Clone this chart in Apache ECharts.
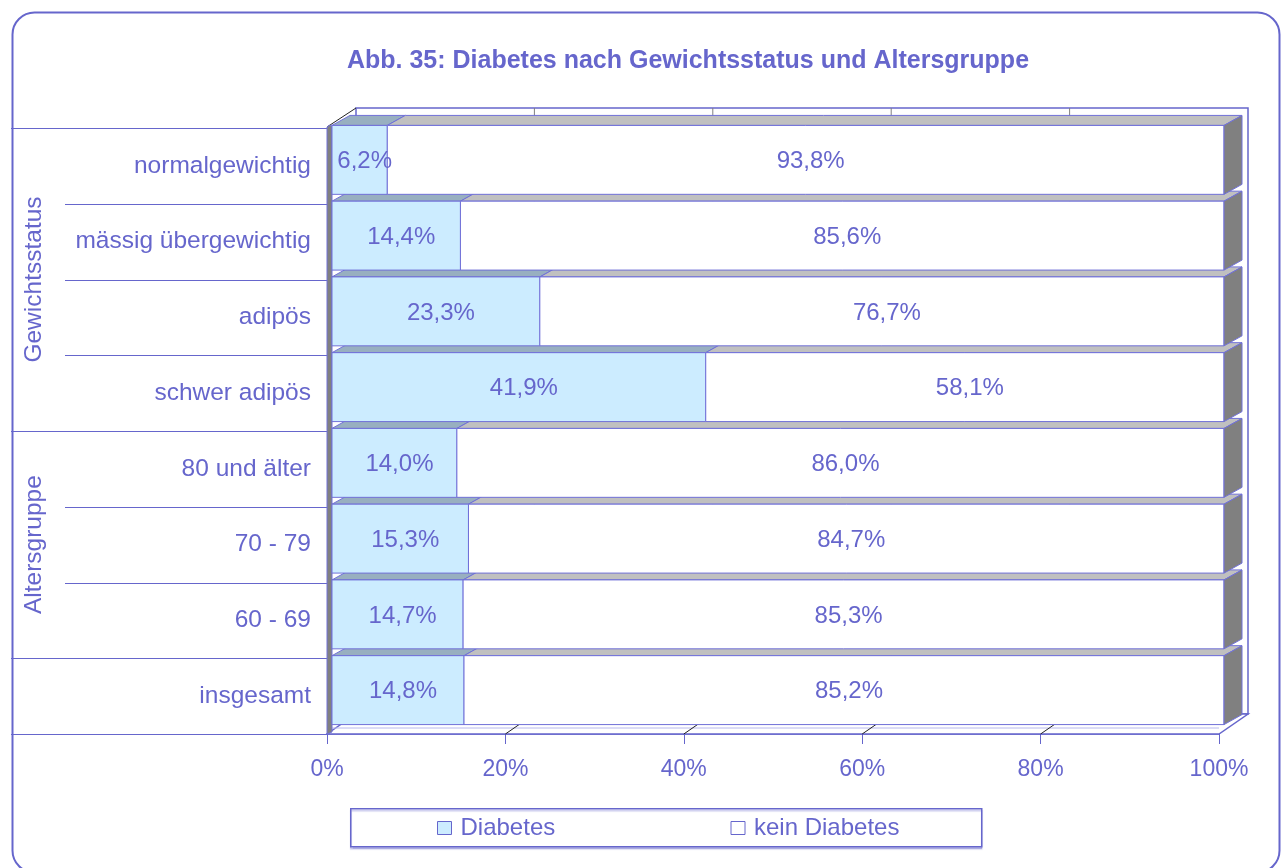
<!DOCTYPE html>
<html>
<head>
<meta charset="utf-8">
<title>Diabetes nach Gewichtsstatus und Altersgruppe</title>
<script src="https://cdn.jsdelivr.net/npm/echarts@6/dist/echarts.min.js"></script>
<style>
  html, body { margin: 0; padding: 0; background: #ffffff; }
  #chart { width: 1283px; height: 868px; }
</style>
</head>
<body>
<div id="chart"></div>
<script>
// ---- data ----
const titleText = 'Abb. 35: Diabetes nach Gewichtsstatus und Altersgruppe';
const categories = ['normalgewichtig', 'mässig übergewichtig', 'adipös', 'schwer adipös',
                    '80 und älter', '70 - 79', '60 - 69', 'insgesamt'];
const diabetes = [6.2, 14.4, 23.3, 41.9, 14.0, 15.3, 14.7, 14.8];
const keinDiabetes = [93.8, 85.6, 76.7, 58.1, 86.0, 84.7, 85.3, 85.2];
const seriesNames = ['Diabetes', 'kein Diabetes'];
const xTicks = [0, 20, 40, 60, 80, 100];
const groupNames = ['Gewichtsstatus', 'Altersgruppe', ''];
const groupFirst = [0, 4, 7];
const groupLast = [3, 6, 7];

// ---- style ----
const FONT = '"Liberation Sans", Arial, Helvetica, sans-serif';
const INK = '#6666CC';
const EDGE = '#7070D8';
const DIA_FRONT = '#CCECFF';
const DIA_TOP = '#98AFC0';
const KEIN_FRONT = '#FFFFFF';
const KEIN_TOP = '#C0C0C0';
const SIDE = '#808080';

// oblique projection: wall depth and bar depth in pixels
const WALL_DX = 29, WALL_DY = -20;
const BAR_DX = 18, BAR_DY = -10;
const BAR_SHIFT_X = 5, BAR_SHIFT_Y = -6;
const BAR_FRAC = 0.91;
const WALL_THICK = 5;

const fmt = v => v.toFixed(1).replace('.', ',') + '%';

// walls, floor, gridlines, category separators and group titles
function renderFrame(params, api) {
  const cs = params.coordSys;
  const L = cs.x, T = cs.y, R = cs.x + cs.width, B = cs.y + cs.height;
  const band = api.size([0, 1])[1];
  const kids = [];

  // back wall
  kids.push({ type: 'rect', z2: 1,
    shape: { x: L + WALL_DX, y: T + WALL_DY, width: cs.width, height: cs.height },
    style: { fill: '#ffffff', stroke: INK, lineWidth: 1.5 } });
  // gridlines on the back wall
  xTicks.forEach(v => {
    const x = api.coord([v, 0])[0] + WALL_DX;
    if (v > 0 && v < 100) {
      kids.push({ type: 'line', z2: 2,
        shape: { x1: x, y1: T + WALL_DY, x2: x, y2: B + WALL_DY },
        style: { stroke: '#808080', lineWidth: 1 } });
    }
  });
  // floor slab
  kids.push({ type: 'polygon', z2: 3,
    shape: { points: [[L, B], [R, B], [R + WALL_DX, B + WALL_DY], [L + WALL_DX, B + WALL_DY]] },
    style: { fill: '#ffffff', stroke: INK, lineWidth: 1.5 } });
  kids.push({ type: 'line', z2: 4,
    shape: { x1: L, y1: B - 6, x2: R, y2: B - 6 },
    style: { stroke: '#B8B8EE', lineWidth: 1 } });
  xTicks.forEach(v => {
    const x = api.coord([v, 0])[0];
    if (v > 0 && v < 100) {
      kids.push({ type: 'line', z2: 4,
        shape: { x1: x, y1: B, x2: x + WALL_DX, y2: B + WALL_DY },
        style: { stroke: '#222222', lineWidth: 1 } });
    }
  });
  // left wall: top edge and thick front edge
  kids.push({ type: 'line', z2: 5,
    shape: { x1: L, y1: T - 1, x2: L + WALL_DX, y2: T + WALL_DY },
    style: { stroke: '#222222', lineWidth: 1 } });
  kids.push({ type: 'polygon', z2: 5,
    shape: { points: [[L, T - 1], [L + 3, T - 3], [L + WALL_THICK, T - 2], [L + WALL_THICK, B - 2], [L, B]] },
    style: { fill: SIDE, stroke: EDGE, lineWidth: 1 } });

  // category separators in the label column
  const groupStart = new Set(groupFirst);
  for (let k = 0; k <= categories.length; k++) {
    const y = Math.round(T + k * band) + 0.5;
    const full = groupStart.has(k) || k === categories.length;
    kids.push({ type: 'line', z2: 1,
      shape: { x1: full ? 11 : 65, y1: y, x2: L, y2: y },
      style: { stroke: INK, lineWidth: 1 } });
  }
  // rotated group titles
  groupNames.forEach((name, g) => {
    if (!name) return;
    const yMid = T + (groupFirst[g] + groupLast[g] + 1) / 2 * band;
    kids.push({ type: 'text', z2: 6, x: 34, y: yMid, rotation: Math.PI / 2,
      style: { text: name, fill: INK, font: '24.5px ' + FONT, align: 'center', verticalAlign: 'middle' } });
  });
  return { type: 'group', children: kids };
}

// one 3D bar segment per data item: [category, start, end, value]
function barRenderer(front, top, drawSide) {
  return function (params, api) {
    const cat = api.value(0), start = api.value(1), end = api.value(2), val = api.value(3);
    const a = api.coord([start, cat]);
    const b = api.coord([end, cat]);
    const band = api.size([0, 1])[1];
    const h = band * BAR_FRAC;
    const yc = a[1] + BAR_SHIFT_Y;
    const x0 = a[0] + BAR_SHIFT_X, x1 = b[0] + BAR_SHIFT_X;
    const y0 = yc - h / 2, y1 = yc + h / 2;
    const z = (categories.length - cat) * 10;
    const kids = [
      { type: 'polygon', z2: z,
        shape: { points: [[x0, y0], [x1, y0], [x1 + BAR_DX, y0 + BAR_DY], [x0 + BAR_DX, y0 + BAR_DY]] },
        style: { fill: top, stroke: EDGE, lineWidth: 1 } },
      { type: 'rect', z2: z + 1,
        shape: { x: x0, y: y0, width: x1 - x0, height: h },
        style: { fill: front, stroke: EDGE, lineWidth: 1 } }
    ];
    if (drawSide) {
      kids.push({ type: 'polygon', z2: z + 1,
        shape: { points: [[x1, y0], [x1 + BAR_DX, y0 + BAR_DY], [x1 + BAR_DX, y1 + BAR_DY], [x1, y1]] },
        style: { fill: SIDE, stroke: EDGE, lineWidth: 1 } });
    }
    kids.push({ type: 'text', z2: z + 5, x: (x0 + x1) / 2 + 5, y: yc + 1.5,
      style: { text: fmt(val), fill: INK, font: '24px ' + FONT, align: 'center', verticalAlign: 'middle' } });
    return { type: 'group', children: kids };
  };
}

const diaData = categories.map((c, i) => [i, 0, diabetes[i], diabetes[i]]);
const keinData = categories.map((c, i) => [i, diabetes[i], diabetes[i] + keinDiabetes[i], keinDiabetes[i]]);

const chart = echarts.init(document.getElementById('chart'), null, { renderer: 'canvas' });
chart.setOption({
  backgroundColor: '#ffffff',
  animation: false,
  textStyle: { fontFamily: FONT },
  title: {
    text: titleText, left: 688, top: 49, textAlign: 'center', padding: 0,
    textStyle: { fontSize: 25, fontWeight: 'bold', color: INK, fontFamily: FONT }
  },
  legend: {
    data: seriesNames, left: 437, top: 816, icon: 'rect', padding: 0,
    itemWidth: 14, itemHeight: 13, itemGap: 0,
    itemStyle: { borderColor: INK, borderWidth: 1 },
    textStyle: { fontSize: 24, color: INK, fontFamily: FONT, width: 270, lineHeight: 24, padding: [0, 0, 0, 4] }
  },
  grid: { left: 327, top: 128, width: 892, height: 606 },
  xAxis: {
    type: 'value', min: 0, max: 100, interval: 20,
    axisLine: { show: true, lineStyle: { color: INK, width: 1.5 } },
    axisTick: { show: true, length: 10, lineStyle: { color: INK } },
    axisLabel: { formatter: '{value}%', fontSize: 23, color: INK, margin: 24, fontFamily: FONT },
    splitLine: { show: false }
  },
  yAxis: {
    type: 'category', data: categories, inverse: true,
    axisLine: { show: false }, axisTick: { show: false },
    axisLabel: { fontSize: 24.5, color: INK, margin: 16, fontFamily: FONT },
    splitLine: { show: false }
  },
  graphic: [
    { type: 'rect', left: 10, top: 10, z: 0, silent: true,
      shape: { width: 1267, height: 860, r: 22 },
      style: { fill: 'none', stroke: INK, lineWidth: 2 } },
    { type: 'rect', left: 350, top: 808, z: 0, silent: true,
      shape: { width: 631, height: 38 },
      style: { fill: '#ffffff', stroke: INK, lineWidth: 1.5, shadowColor: 'rgba(102,102,204,0.35)', shadowOffsetY: 2, shadowBlur: 1 } }
  ],
  series: [
    { type: 'custom', name: 'frame', z: 1, silent: true, clip: false,
      renderItem: renderFrame, data: [[0, 0, 0, 0]], encode: { x: 1, y: 0 } },
    { type: 'custom', name: seriesNames[0], z: 2, clip: false,
      itemStyle: { color: DIA_FRONT, borderColor: INK, borderWidth: 1 },
      renderItem: barRenderer(DIA_FRONT, DIA_TOP, false),
      data: diaData, encode: { x: [1, 2], y: 0 } },
    { type: 'custom', name: seriesNames[1], z: 2, clip: false,
      itemStyle: { color: KEIN_FRONT, borderColor: INK, borderWidth: 1 },
      renderItem: barRenderer(KEIN_FRONT, KEIN_TOP, true),
      data: keinData, encode: { x: [1, 2], y: 0 } }
  ]
});
</script>
</body>
</html>
